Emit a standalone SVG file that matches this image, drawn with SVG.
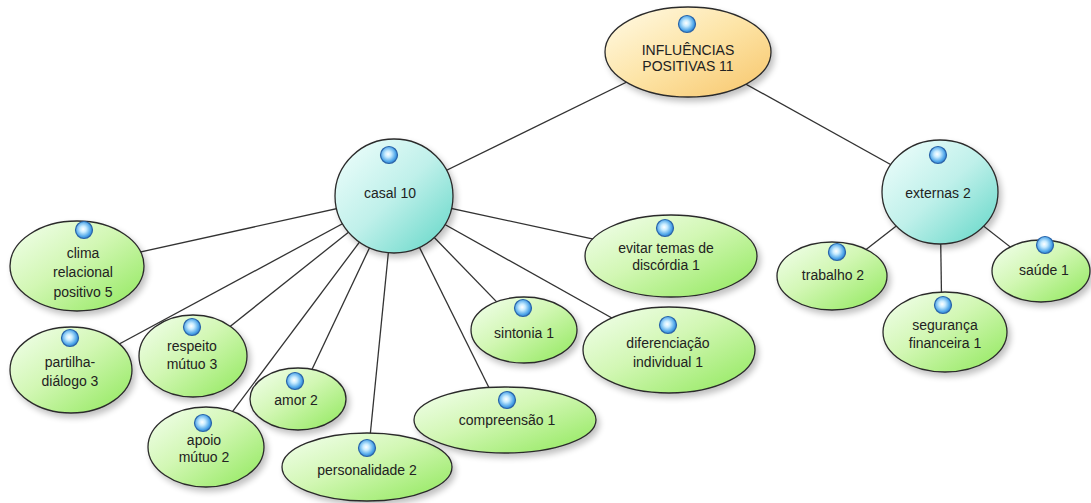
<svg xmlns="http://www.w3.org/2000/svg" width="1091" height="503" viewBox="0 0 1091 503">
<defs>
<linearGradient id="gGreen" x1="0" y1="0" x2="1" y2="1">
<stop offset="0" stop-color="#f4fff0"/>
<stop offset="0.45" stop-color="#d2f7b4"/>
<stop offset="1" stop-color="#8fe85a"/>
</linearGradient>
<linearGradient id="gCyan" x1="0" y1="0" x2="1" y2="1">
<stop offset="0" stop-color="#f2fffd"/>
<stop offset="0.5" stop-color="#bff0ea"/>
<stop offset="1" stop-color="#5fd6c6"/>
</linearGradient>
<linearGradient id="gGold" x1="0" y1="0" x2="1" y2="1">
<stop offset="0" stop-color="#fffbe8"/>
<stop offset="0.5" stop-color="#fde4a6"/>
<stop offset="1" stop-color="#f7c56a"/>
</linearGradient>
<radialGradient id="gIcon" cx="0.45" cy="0.45" r="0.6">
<stop offset="0" stop-color="#ffffff"/>
<stop offset="0.3" stop-color="#c8ecff"/>
<stop offset="0.75" stop-color="#4aa3e8"/>
<stop offset="1" stop-color="#2a6fc0"/>
</radialGradient>
<filter id="shadow" x="-20%" y="-20%" width="150%" height="150%">
<feGaussianBlur in="SourceAlpha" stdDeviation="3"/>
<feOffset dx="3" dy="4" result="b"/>
<feComponentTransfer><feFuncA type="linear" slope="0.25"/></feComponentTransfer>
<feMerge><feMergeNode/><feMergeNode in="SourceGraphic"/></feMerge>
</filter>
</defs>
<style>
.lk{stroke:#333;stroke-width:1.3;fill:none}
.n{stroke:#2b2b2b;stroke-width:1.3;filter:url(#shadow)}
.g{fill:url(#gGreen)}
.c{fill:url(#gCyan)}
.y{fill:url(#gGold)}
.ic{fill:url(#gIcon);stroke:#2a64a8;stroke-width:1.2}
text{font-family:"Liberation Sans",Arial,sans-serif;font-size:14px;fill:#222;text-anchor:middle}
</style>
<rect width="1091" height="503" fill="#ffffff"/>
<g id="connectors">
<line class="lk" x1="688" y1="52" x2="394" y2="196"/>
<line class="lk" x1="688" y1="52" x2="940" y2="192"/>
<line class="lk" x1="394" y1="196" x2="77" y2="266"/>
<line class="lk" x1="394" y1="196" x2="71" y2="370"/>
<line class="lk" x1="394" y1="196" x2="193" y2="356"/>
<line class="lk" x1="394" y1="196" x2="298" y2="399"/>
<line class="lk" x1="394" y1="196" x2="206" y2="447"/>
<line class="lk" x1="394" y1="196" x2="367" y2="467"/>
<line class="lk" x1="394" y1="196" x2="505" y2="420"/>
<line class="lk" x1="394" y1="196" x2="524" y2="330"/>
<line class="lk" x1="394" y1="196" x2="669" y2="350"/>
<line class="lk" x1="394" y1="196" x2="671" y2="256"/>
<line class="lk" x1="940" y1="192" x2="832" y2="276"/>
<line class="lk" x1="940" y1="192" x2="942" y2="332"/>
<line class="lk" x1="940" y1="192" x2="1041" y2="271"/>
</g>
<g id="n-root">
<ellipse class="n y" cx="688" cy="52" rx="83" ry="45"/>
<circle class="ic" cx="687" cy="24" r="8.5"/>
<text x="688" y="55">INFLUÊNCIAS</text>
<text x="688" y="71">POSITIVAS 11</text>
</g>
<g id="n-casal">
<ellipse class="n c" cx="394" cy="196" rx="59" ry="57"/>
<circle class="ic" cx="389" cy="155" r="8.5"/>
<text x="390" y="198">casal 10</text>
</g>
<g id="n-externas">
<ellipse class="n c" cx="940" cy="192" rx="58" ry="52"/>
<circle class="ic" cx="938" cy="155" r="8.5"/>
<text x="938" y="198">externas 2</text>
</g>
<g id="n-clima">
<ellipse class="n g" cx="77" cy="266" rx="67" ry="45"/>
<circle class="ic" cx="84" cy="230" r="8.5"/>
<text x="83" y="258">clima</text>
<text x="83" y="277">relacional</text>
<text x="83" y="297">positivo 5</text>
</g>
<g id="n-partilha">
<ellipse class="n g" cx="71" cy="370" rx="61" ry="43"/>
<circle class="ic" cx="70" cy="338" r="8.5"/>
<text x="70" y="367">partilha-</text>
<text x="70" y="386">diálogo 3</text>
</g>
<g id="n-respeito">
<ellipse class="n g" cx="193" cy="356" rx="54" ry="41"/>
<circle class="ic" cx="192" cy="327" r="8.5"/>
<text x="192" y="351">respeito</text>
<text x="192" y="369">mútuo 3</text>
</g>
<g id="n-amor">
<ellipse class="n g" cx="298" cy="399" rx="48" ry="31"/>
<circle class="ic" cx="295" cy="381" r="8.5"/>
<text x="296" y="405">amor 2</text>
</g>
<g id="n-apoio">
<ellipse class="n g" cx="206" cy="447" rx="58" ry="40"/>
<circle class="ic" cx="203" cy="423" r="8.5"/>
<text x="204" y="445">apoio</text>
<text x="204" y="462">mútuo 2</text>
</g>
<g id="n-personalidade">
<ellipse class="n g" cx="367" cy="467" rx="85" ry="34"/>
<circle class="ic" cx="367" cy="448" r="8.5"/>
<text x="367" y="475">personalidade 2</text>
</g>
<g id="n-compreensao">
<ellipse class="n g" cx="505" cy="420" rx="91" ry="33"/>
<circle class="ic" cx="507" cy="400" r="8.5"/>
<text x="507" y="425">compreensão 1</text>
</g>
<g id="n-sintonia">
<ellipse class="n g" cx="524" cy="330" rx="53" ry="33"/>
<circle class="ic" cx="523" cy="308" r="8.5"/>
<text x="524" y="338">sintonia 1</text>
</g>
<g id="n-diferenciacao">
<ellipse class="n g" cx="669" cy="350" rx="86" ry="43"/>
<circle class="ic" cx="668" cy="325" r="8.5"/>
<text x="668" y="348">diferenciação</text>
<text x="668" y="367">individual 1</text>
</g>
<g id="n-evitar">
<ellipse class="n g" cx="671" cy="256" rx="86" ry="41"/>
<circle class="ic" cx="665" cy="228" r="8.5"/>
<text x="666" y="253">evitar temas de</text>
<text x="666" y="270">discórdia 1</text>
</g>
<g id="n-trabalho">
<ellipse class="n g" cx="832" cy="276" rx="55" ry="34"/>
<circle class="ic" cx="837" cy="252" r="8.5"/>
<text x="833" y="280">trabalho 2</text>
</g>
<g id="n-seguranca">
<ellipse class="n g" cx="945" cy="332" rx="62" ry="40"/>
<circle class="ic" cx="943" cy="305" r="8.5"/>
<text x="945" y="330">segurança</text>
<text x="945" y="348">financeira 1</text>
</g>
<g id="n-saude">
<ellipse class="n g" cx="1041" cy="271" rx="49" ry="31"/>
<circle class="ic" cx="1045" cy="245" r="8.5"/>
<text x="1044" y="275">saúde 1</text>
</g>
</svg>
